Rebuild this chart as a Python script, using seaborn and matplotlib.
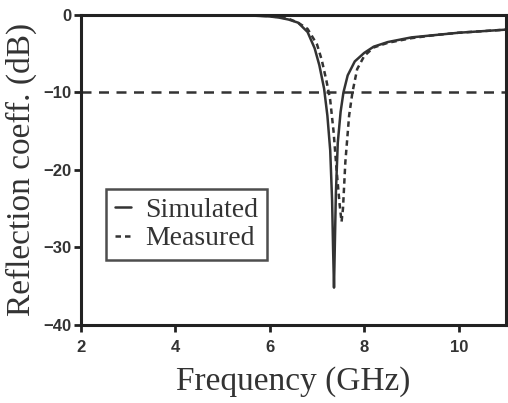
import matplotlib
matplotlib.use("Agg")
import matplotlib.pyplot as plt
import seaborn as sns
import pandas as pd

freq_sim = [2, 3, 4, 5, 5.5, 6.0, 6.2, 6.4, 6.6, 6.8, 6.95, 7.05, 7.15, 7.22, 7.28,
            7.32, 7.34, 7.36, 7.38, 7.40, 7.44, 7.50, 7.56, 7.65, 7.8, 8.0, 8.2,
            8.5, 9.0, 9.5, 10.0, 10.5, 11.0]
s11_sim = [0, 0, 0, 0, -0.05, -0.2, -0.35, -0.6, -1.0, -2.2, -4.3, -6.5, -9.5, -13,
           -17.5, -24, -30, -35.2, -29, -23, -16.5, -12.5, -10, -7.8, -6.0, -4.9,
           -4.1, -3.5, -2.9, -2.6, -2.3, -2.1, -1.9]

freq_meas = [2, 3, 4, 5, 5.5, 6.0, 6.2, 6.4, 6.6, 6.8, 7.0, 7.1, 7.2, 7.28, 7.35,
             7.42, 7.48, 7.52, 7.55, 7.6, 7.68, 7.75, 7.85, 8.0, 8.2, 8.5, 9.0,
             9.5, 10.0, 10.5, 11.0]
s11_meas = [0, 0, 0, 0, -0.05, -0.15, -0.3, -0.5, -1.0, -1.8, -3.8, -5.8, -8.5, -11,
            -15, -20.4, -24.5, -26.7, -25, -19, -13, -10, -7, -5.3, -4.2, -3.6,
            -3.0, -2.6, -2.3, -2.1, -1.9]

x_ticks = [2, 4, 6, 8, 10]
y_ticks = [0, -10, -20, -30, -40]
threshold = -10

df = pd.concat([
    pd.DataFrame({"f": freq_sim, "s11": s11_sim, "kind": "Simulated"}),
    pd.DataFrame({"f": freq_meas, "s11": s11_meas, "kind": "Measured"}),
])

sns.set_style("ticks")
ink = "#333333"
serif = ["Liberation Serif", "DejaVu Serif"]

fig = plt.figure(figsize=(5.08, 4.03), dpi=100)
ax = fig.add_axes([0.159, 0.194, 0.837, 0.769])

ax.axhline(threshold, color=ink, lw=1.8, dashes=(4, 3), zorder=1)
sns.lineplot(data=df, x="f", y="s11", style="kind",
             style_order=["Simulated", "Measured"],
             dashes={"Simulated": "", "Measured": (2.2, 1.6)},
             color=ink, lw=1.8, sort=False, estimator=None, ax=ax)

ax.set_xlim(2, 11)
ax.set_ylim(-40, 0)
ax.set_xticks(x_ticks)
ax.set_yticks(y_ticks)
for s in ax.spines.values():
    s.set_linewidth(2.2)
    s.set_color("#222222")
ax.tick_params(length=5, width=2, color="#222222", pad=2, labelcolor=ink)
ax.tick_params(axis="x", pad=6)
for lab in ax.get_xticklabels() + ax.get_yticklabels():
    lab.set_fontfamily("Liberation Sans")
    lab.set_fontweight("bold")
    lab.set_fontsize(12)

ax.set_xlabel("Frequency (GHz)", family=serif, fontsize=24, color=ink, labelpad=8)
ax.set_ylabel("Reflection coeff. (dB)", family=serif, fontsize=24, color=ink, labelpad=4)

leg = ax.legend(loc="lower left", bbox_to_anchor=(0.06, 0.21), prop={"family": serif, "size": 20},
                frameon=True, fancybox=False, handlelength=0.6, handletextpad=0.5,
                borderpad=0.3, labelspacing=0.1, borderaxespad=0)
leg.get_frame().set_edgecolor("#222222")
leg.get_frame().set_linewidth(1.8)
for t in leg.get_texts():
    t.set_color(ink)

fig.savefig("out.png", dpi=100)
